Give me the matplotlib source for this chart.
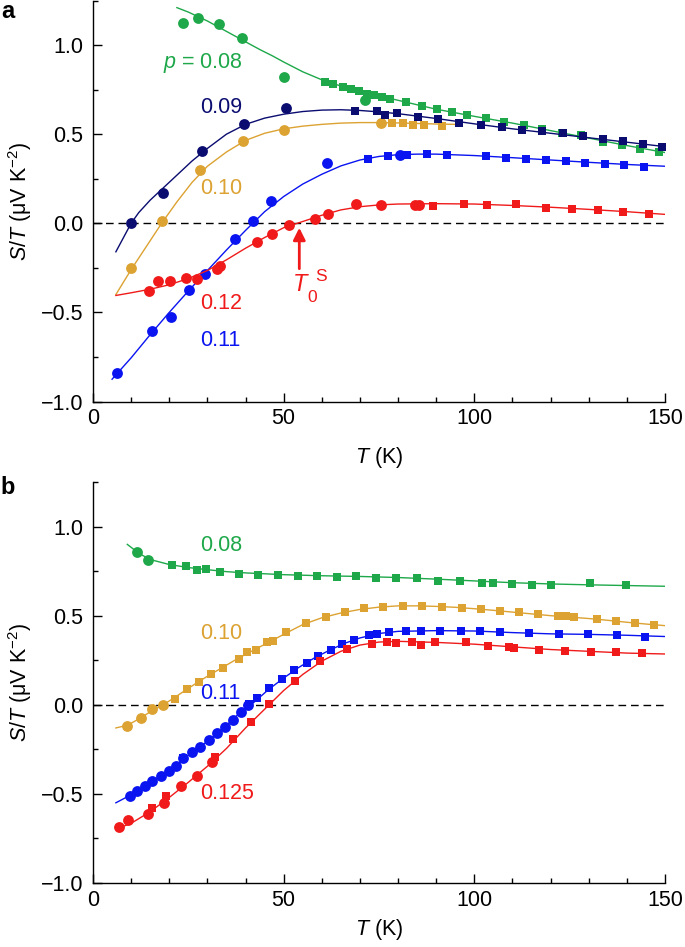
import matplotlib
matplotlib.use("Agg")
import matplotlib.pyplot as plt
from matplotlib.ticker import MultipleLocator, FuncFormatter

plt.rcParams['font.family'] = ['Liberation Sans', 'DejaVu Sans']
plt.rcParams['mathtext.fontset'] = 'custom'
plt.rcParams['mathtext.rm'] = 'Liberation Sans'
plt.rcParams['mathtext.it'] = 'Liberation Sans:italic'
plt.rcParams['mathtext.bf'] = 'Liberation Sans:bold'

GREEN = '#1ea84a'
NAVY = '#0a0c70'
GOLD = '#dca232'
BLUE = '#0a14f0'
RED = '#f01a1a'

# ---------------- Panel a data ----------------
a_g_circ_T = [23.5, 27.5, 33.0, 39.2, 50.1, 71.3]
a_g_circ_S = [1.125, 1.153, 1.118, 1.039, 0.819, 0.691]
a_g_sq_T = [60.8, 63.0, 65.5, 67.6, 69.8, 71.8, 73.7, 75.9, 77.9, 82.1, 86.2, 90.1, 94.1, 98.0,
            103.0, 107.8, 112.9, 117.8, 122.9, 127.9, 133.8, 138.7, 143.5, 148.3]
a_g_sq_S = [0.794, 0.781, 0.766, 0.755, 0.743, 0.728, 0.719, 0.706, 0.697, 0.678, 0.657, 0.639, 0.624, 0.607,
            0.588, 0.571, 0.549, 0.530, 0.507, 0.494, 0.457, 0.438, 0.414, 0.399]
a_g_fit_T = [22, 25, 27.5, 30, 33, 36, 39, 42, 44, 47, 50, 55, 60, 65, 70, 75, 80, 90, 100, 110, 120, 130, 140, 150]
a_g_fit_S = [1.21, 1.185, 1.16, 1.135, 1.10, 1.065, 1.03, 0.995, 0.972, 0.94, 0.905, 0.85, 0.805, 0.77, 0.74,
             0.715, 0.69, 0.64, 0.60, 0.562, 0.52, 0.478, 0.436, 0.397]

a_n_circ_T = [9.9, 18.4, 28.7, 39.7, 50.6]
a_n_circ_S = [0.0, 0.17, 0.406, 0.556, 0.648]
a_n_sq_T = [68.7, 74.4, 76.6, 79.6, 85.2, 90.6, 96.1, 101.7, 107.2, 112.4, 117.8, 123.2, 128.4, 133.7, 138.9, 144.1, 149.1]
a_n_sq_S = [0.631, 0.631, 0.605, 0.616, 0.597, 0.586, 0.560, 0.551, 0.541, 0.522, 0.517, 0.504, 0.489, 0.474, 0.461, 0.444, 0.429]
a_n_fit_T = [6, 8, 10, 12, 15, 18, 22, 26, 30, 35, 40, 45, 50, 55, 60, 65, 70, 75, 80, 90, 100, 110, 120, 130, 140, 150]
a_n_fit_S = [-0.16, -0.08, 0.0, 0.06, 0.13, 0.19, 0.27, 0.35, 0.42, 0.50, 0.555, 0.59, 0.612, 0.627, 0.635, 0.637,
             0.633, 0.625, 0.615, 0.588, 0.558, 0.530, 0.505, 0.48, 0.455, 0.43]

a_o_circ_T = [10.0, 18.2, 28.1, 39.3, 50.1, 75.4]
a_o_circ_S = [-0.251, 0.013, 0.298, 0.463, 0.522, 0.564]
a_o_sq_T = [78.5, 81.2, 84.0, 86.9, 91.6]
a_o_sq_S = [0.564, 0.560, 0.554, 0.551, 0.547]
a_o_fit_T = [6, 8, 10, 14, 18, 22, 26, 30, 35, 40, 45, 50, 55, 60, 65, 70, 75, 80, 85, 90, 95]
a_o_fit_S = [-0.40, -0.33, -0.26, -0.13, 0.0, 0.12, 0.23, 0.32, 0.40, 0.465, 0.505, 0.53, 0.545, 0.555, 0.562,
             0.565, 0.565, 0.563, 0.56, 0.557, 0.555]

a_b_circ_T = [6.2, 15.6, 20.5, 25.3, 29.4, 37.2, 41.9, 46.6, 61.4, 80.5]
a_b_circ_S = [-0.839, -0.605, -0.526, -0.373, -0.287, -0.09, 0.011, 0.125, 0.339, 0.382]
a_b_sq_T = [72.0, 77.3, 82.4, 87.7, 92.8, 103.1, 108.3, 113.6, 118.7, 124.0, 129.0, 134.3, 139.3, 144.5]
a_b_sq_S = [0.363, 0.376, 0.382, 0.388, 0.382, 0.376, 0.367, 0.360, 0.354, 0.347, 0.339, 0.331, 0.326, 0.316]
a_b_fit_T = [5, 10, 15, 20, 25, 30, 35, 40, 45, 50, 55, 60, 65, 70, 75, 80, 85, 90, 100, 110, 120, 130, 140, 150]
a_b_fit_S = [-0.875, -0.755, -0.625, -0.50, -0.38, -0.265, -0.15, -0.04, 0.065, 0.15, 0.22, 0.275, 0.322,
             0.355, 0.375, 0.385, 0.388, 0.388, 0.38, 0.368, 0.355, 0.342, 0.33, 0.32]

a_r_circ_T = [14.8, 17.1, 20.2, 24.4, 27.2, 32.4, 33.3, 42.9, 46.9, 51.5, 58.2, 61.7, 69.0, 75.5, 84.4, 85.6]
a_r_circ_S = [-0.38, -0.326, -0.326, -0.305, -0.311, -0.255, -0.242, -0.105, -0.058, -0.011, 0.026, 0.054,
              0.107, 0.105, 0.105, 0.101]
a_r_sq_T = [89.2, 97.4, 103.2, 110.9, 118.7, 125.5, 132.3, 139.1, 145.8]
a_r_sq_S = [0.097, 0.107, 0.101, 0.110, 0.088, 0.079, 0.073, 0.062, 0.054]
a_r_fit_T = [6, 10, 15, 20, 25, 30, 35, 40, 45, 50, 55, 60, 65, 70, 75, 80, 90, 100, 110, 120, 130, 140, 150]
a_r_fit_S = [-0.405, -0.39, -0.37, -0.345, -0.31, -0.265, -0.205, -0.14, -0.08, -0.025, 0.01, 0.045, 0.075,
             0.093, 0.103, 0.108, 0.11, 0.108, 0.10, 0.09, 0.078, 0.065, 0.05]

# ---------------- Panel b data ----------------
b_g_circ_T = [11.5, 14.3]
b_g_circ_S = [0.855, 0.812]
b_g_sq_T = [20.8, 24.3, 27.2, 29.6, 33.3, 38.3, 43.3, 48.4, 53.7, 58.7, 63.9, 69.0, 74.3, 79.5, 85.0, 90.6,
            96.3, 102.1, 105.0, 110.0, 115.0, 120.0, 130.3, 139.9]
b_g_sq_S = [0.786, 0.780, 0.756, 0.762, 0.743, 0.734, 0.730, 0.728, 0.724, 0.720, 0.719, 0.723, 0.713, 0.713,
            0.709, 0.696, 0.695, 0.685, 0.683, 0.676, 0.672, 0.674, 0.681, 0.670]
b_g_fit_T = [9, 12, 15, 20, 25, 30, 35, 40, 50, 60, 70, 80, 90, 100, 110, 120, 130, 140, 150]
b_g_fit_S = [0.90, 0.85, 0.815, 0.787, 0.77, 0.758, 0.747, 0.74, 0.73, 0.724, 0.72, 0.714, 0.705, 0.695,
             0.685, 0.678, 0.673, 0.669, 0.665]

b_o_circ_T = [8.8, 12.5, 15.6, 18.4]
b_o_circ_S = [-0.120, -0.075, -0.025, 0.0]
b_o_sq_T = [21.5, 24.7, 27.9, 30.9, 34.0, 38.2, 40.5, 42.8, 45.6, 47.1, 50.6, 55.9, 61.1, 66.1, 71.1, 76.1,
            81.2, 86.4, 91.6, 96.7, 101.7, 106.7, 111.7, 116.8, 122.0, 124.0, 126.1, 132.1, 137.1, 142.2, 147.1]
b_o_sq_S = [0.034, 0.086, 0.127, 0.170, 0.207, 0.258, 0.295, 0.308, 0.351, 0.360, 0.407, 0.457, 0.495, 0.519,
            0.543, 0.551, 0.555, 0.552, 0.551, 0.543, 0.538, 0.524, 0.519, 0.510, 0.500, 0.496, 0.495, 0.480,
            0.468, 0.459, 0.450]
b_o_fit_T = [6, 9, 12, 15, 18, 21, 24, 27, 30, 34, 38, 42, 46, 50, 55, 60, 65, 70, 75, 80, 85, 90, 95, 100,
             105, 110, 115, 120, 125, 130, 135, 140, 145, 150]
b_o_fit_S = [-0.13, -0.115, -0.08, -0.04, -0.005, 0.035, 0.078, 0.12, 0.16, 0.21, 0.26, 0.305, 0.35, 0.395,
             0.45, 0.488, 0.515, 0.535, 0.548, 0.555, 0.555, 0.552, 0.547, 0.539, 0.530, 0.520, 0.510, 0.500,
             0.492, 0.484, 0.474, 0.463, 0.453, 0.444]

b_b_circ_T = [9.7, 11.5, 13.6, 15.6, 17.8, 19.8, 21.8, 23.7, 25.9, 28.1, 30.3, 32.4, 34.6, 36.6, 38.7, 40.7]
b_b_circ_S = [-0.514, -0.484, -0.458, -0.430, -0.402, -0.374, -0.344, -0.297, -0.266, -0.237, -0.200, -0.159,
              -0.122, -0.084, -0.041, -0.004]
b_b_sq_T = [23.7, 41.0, 43.1, 46.2, 49.5, 52.8, 56.0, 59.1, 62.3, 65.4, 68.5, 72.5, 74.6, 77.7, 82.0, 86.0,
            91.0, 96.4, 101.5, 106.7, 114.4, 122.2, 129.7, 137.4, 144.7]
b_b_sq_S = [-0.300, 0.006, 0.037, 0.093, 0.146, 0.196, 0.233, 0.276, 0.310, 0.342, 0.364, 0.392, 0.398, 0.409,
            0.415, 0.416, 0.416, 0.416, 0.415, 0.407, 0.401, 0.398, 0.398, 0.392, 0.383]
b_b_fit_T = [6, 10, 14, 18, 22, 26, 30, 34, 38, 42, 46, 50, 54, 58, 62, 66, 70, 75, 80, 90, 100, 110, 120,
             130, 140, 150]
b_b_fit_S = [-0.55, -0.505, -0.45, -0.395, -0.335, -0.265, -0.205, -0.135, -0.055, 0.01, 0.085, 0.15, 0.21,
             0.262, 0.306, 0.345, 0.375, 0.400, 0.412, 0.416, 0.414, 0.405, 0.398, 0.395, 0.39, 0.383]

b_r_circ_T = [6.8, 9.3, 14.3, 18.6, 23.0, 27.2, 31.1]
b_r_circ_S = [-0.686, -0.648, -0.615, -0.551, -0.458, -0.402, -0.321]
b_r_sq_T = [15.4, 19.1, 32.0, 36.8, 41.4, 46.2, 53.0, 59.5, 66.5, 73.1, 77.2, 79.5, 83.6, 85.9, 89.6, 97.9,
            103.7, 109.1, 110.4, 117.0, 123.8, 130.6, 137.2, 143.9]
b_r_sq_S = [-0.577, -0.514, -0.293, -0.194, -0.094, 0.002, 0.136, 0.244, 0.314, 0.342, 0.355, 0.347, 0.355,
            0.338, 0.351, 0.351, 0.332, 0.323, 0.317, 0.310, 0.304, 0.295, 0.295, 0.291]
b_r_fit_T = [7, 10, 15, 20, 25, 30, 35, 40, 45, 50, 55, 60, 65, 70, 75, 80, 90, 100, 110, 120, 130, 140, 150]
b_r_fit_S = [-0.69, -0.665, -0.60, -0.52, -0.435, -0.345, -0.245, -0.13, -0.025, 0.08, 0.17, 0.245, 0.30,
             0.335, 0.352, 0.356, 0.35, 0.34, 0.325, 0.31, 0.30, 0.29, 0.285]

x_ticks = [0, 50, 100, 150]
y_ticks = [-1.0, -0.5, 0.0, 0.5, 1.0]

FS = 15.5

fig = plt.figure(figsize=(6.85, 9.47), dpi=100)
ax_a = fig.add_axes([93 / 685, 1 - 401.5 / 947, 572 / 685, 401 / 947])
ax_b = fig.add_axes([93 / 685, 1 - 883 / 947, 572 / 685, 401 / 947])

CMS = 7.8
SMS = 6.4
LW = 1.0


def series(ax, cT, cS, sT, sS, fT, fS, color, z):
    ax.plot(fT, fS, '-', color=color, lw=LW, zorder=z)
    if cT:
        ax.plot(cT, cS, 'o', color=color, ms=CMS, mew=0, ls='none', zorder=z + 0.5)
    if sT:
        ax.plot(sT, sS, 's', color=color, ms=SMS, mew=0, ls='none', zorder=z + 0.5)


for ax in (ax_a, ax_b):
    ax.set_xlim(0, 150)
    ax.set_ylim(-1.0, 1.25)
    ax.axhline(0, color='black', lw=1.0, ls=(0, (5.5, 3.5)), zorder=1)
    ax.spines['top'].set_visible(False)
    ax.spines['right'].set_visible(False)
    for s in ('left', 'bottom'):
        ax.spines[s].set_linewidth(1.0)
    ax.set_xticks(x_ticks)
    ax.set_yticks(y_ticks)
    ax.xaxis.set_minor_locator(MultipleLocator(10))
    ax.yaxis.set_minor_locator(MultipleLocator(0.25))
    ax.yaxis.set_major_formatter(FuncFormatter(
        lambda v, p: ('\u2212' if v < 0 else '') + f'{abs(v):.1f}'))
    ax.tick_params(which='both', direction='in', width=1.0, labelsize=FS)
    ax.tick_params(which='major', length=6.5)
    ax.tick_params(which='minor', length=3.8)
    ax.tick_params(axis='y', pad=7)
    ax.tick_params(axis='x', pad=5)
    ax.set_ylabel('$S/T$ (\u03bcV K$^{\u2212 2}$)', fontsize=FS)
    ax.yaxis.set_label_coords(-0.103, 0.5)
    ax.set_xlabel('$T$ (K)', fontsize=FS)

ax_a.xaxis.set_label_coords(0.5, -0.108)
ax_b.xaxis.set_label_coords(0.5, -0.085)

# Panel a
series(ax_a, a_g_circ_T, a_g_circ_S, a_g_sq_T, a_g_sq_S, a_g_fit_T, a_g_fit_S, GREEN, 2)
series(ax_a, a_o_circ_T, a_o_circ_S, a_o_sq_T, a_o_sq_S, a_o_fit_T, a_o_fit_S, GOLD, 3)
series(ax_a, a_n_circ_T, a_n_circ_S, a_n_sq_T, a_n_sq_S, a_n_fit_T, a_n_fit_S, NAVY, 4)
series(ax_a, a_b_circ_T, a_b_circ_S, a_b_sq_T, a_b_sq_S, a_b_fit_T, a_b_fit_S, BLUE, 5)
series(ax_a, a_r_circ_T, a_r_circ_S, a_r_sq_T, a_r_sq_S, a_r_fit_T, a_r_fit_S, RED, 6)

ax_a.text(18.4, 0.90, '$p$ = 0.08', color=GREEN, fontsize=FS, ha='left', va='center')
ax_a.text(28.0, 0.652, '0.09', color=NAVY, fontsize=FS, ha='left', va='center')
ax_a.text(28.0, 0.197, '0.10', color=GOLD, fontsize=FS, ha='left', va='center')
ax_a.text(28.0, -0.45, '0.12', color=RED, fontsize=FS, ha='left', va='center')
ax_a.text(28.0, -0.657, '0.11', color=BLUE, fontsize=FS, ha='left', va='center')

ax_a.annotate('', xy=(54.1, -0.025), xytext=(54.1, -0.255),
              arrowprops=dict(arrowstyle='-|>', color=RED, lw=2.0, mutation_scale=18,
                              shrinkA=0, shrinkB=0))
ax_a.text(54.5, -0.348, '$T$', color=RED, fontsize=17, ha='center', va='center')
ax_a.text(57.6, -0.417, '0', color=RED, fontsize=12.5, ha='center', va='center')
ax_a.text(59.8, -0.298, 'S', color=RED, fontsize=12.5, ha='center', va='center')

# Panel b
series(ax_b, b_g_circ_T, b_g_circ_S, b_g_sq_T, b_g_sq_S, b_g_fit_T, b_g_fit_S, GREEN, 2)
series(ax_b, b_o_circ_T, b_o_circ_S, b_o_sq_T, b_o_sq_S, b_o_fit_T, b_o_fit_S, GOLD, 3)
series(ax_b, b_b_circ_T, b_b_circ_S, b_b_sq_T, b_b_sq_S, b_b_fit_T, b_b_fit_S, BLUE, 5)
series(ax_b, b_r_circ_T, b_r_circ_S, b_r_sq_T, b_r_sq_S, b_r_fit_T, b_r_fit_S, RED, 6)

ax_b.text(28.0, 0.892, '0.08', color=GREEN, fontsize=FS, ha='left', va='center')
ax_b.text(28.0, 0.399, '0.10', color=GOLD, fontsize=FS, ha='left', va='center')
ax_b.text(28.0, 0.063, '0.11', color=BLUE, fontsize=FS, ha='left', va='center', zorder=4)
ax_b.text(28.0, -0.497, '0.125', color=RED, fontsize=FS, ha='left', va='center')

fig.text(8 / 685, 1 - 11 / 947, 'a', fontsize=17, fontweight='bold', ha='center', va='center')
fig.text(8 / 685, 1 - 487 / 947, 'b', fontsize=17, fontweight='bold', ha='center', va='center')

fig.savefig('out.png', dpi=100)
